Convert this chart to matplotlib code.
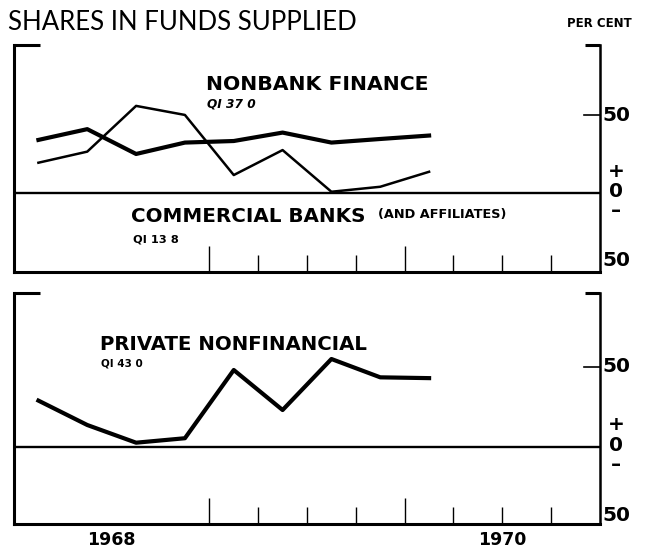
import matplotlib.pyplot as plt
import numpy as np

plt.rcParams['font.family'] = ['DejaVu Sans']

# quarters 1968 QI .. 1970 QI
years = [1968, 1968, 1968, 1968, 1969, 1969, 1969, 1969, 1970]
quarters = [1, 2, 3, 4, 1, 2, 3, 4, 1]

nonbank = [34.2, 41.1, 25.2, 32.5, 33.5, 38.9, 32.5, 34.8, 37.0]
banks = [19.6, 26.7, 56.0, 50.2, 11.7, 27.7, 1.0, 4.2, 13.8]
private_nonfin = [28.9, 13.6, 2.5, 5.3, 48.1, 23.0, 55.0, 43.5, 43.0]

x = np.array(years) + (np.array(quarters) - 0.5) / 4

fig = plt.figure(figsize=(6.45, 5.5), dpi=100)
ax1 = fig.add_axes([14/645, 1 - 272/550, 586/645, 227/550])
ax2 = fig.add_axes([14/645, 1 - 524/550, 586/645, 231/550])


def frame(ax, ylo, yhi):
    ax.set_xlim(1968, 1971)
    ax.set_ylim(ylo, yhi)
    ax.spines['top'].set_visible(False)
    for s in ['left', 'bottom']:
        ax.spines[s].set_linewidth(2.2)
    ax.spines['right'].set_linewidth(1.8)
    # little corner pieces of the top bracket
    ax.plot([0, 0.045], [1, 1], transform=ax.transAxes, color='black', lw=2.2,
            clip_on=False, solid_capstyle='butt')
    ax.plot([0.975, 1], [1, 1], transform=ax.transAxes, color='black', lw=2.2,
            clip_on=False, solid_capstyle='butt')
    ax.axhline(0, color='black', lw=1.7)
    ax.set_yticks([])
    ax.set_xticks([1969, 1970])
    ax.set_xticks([1969.25, 1969.5, 1969.75, 1970.25, 1970.5, 1970.75], minor=True)
    ax.tick_params(axis='x', which='major', direction='in', length=19, width=1,
                   labelbottom=False)
    ax.tick_params(axis='x', which='minor', direction='in', length=12, width=1)
    # right scale
    ax.plot([0.973, 1], [50, 50], transform=ax.get_yaxis_transform(), color='black',
            lw=1.2, clip_on=False)
    tr = ax.get_yaxis_transform()
    ax.text(1.005, 50, '50', transform=tr, ha='left', va='center', fontsize=14.5,
            fontweight='bold')
    ax.text(1.027, 14, '+', transform=tr, ha='center', va='center', fontsize=14.5,
            fontweight='bold')
    ax.text(1.027, 1, '0', transform=tr, ha='center', va='center', fontsize=14.5,
            fontweight='bold')
    ax.text(1.027, -11, '\u2013', transform=tr, ha='center', va='center',
            fontsize=14.5, fontweight='bold')
    ax.text(1.005, -43, '50', transform=tr, ha='left', va='center', fontsize=14.5,
            fontweight='bold')


frame(ax1, -50.4, 95)
frame(ax2, -48.5, 96.4)

ax1.plot(x, nonbank, color='black', lw=3.0, solid_joinstyle='round')
ax1.plot(x, banks, color='black', lw=1.8)
ax2.plot(x, private_nonfin, color='black', lw=3.0, solid_joinstyle='round')

ax1.text(1968.985, 66, 'NONBANK FINANCE', fontsize=14.7, fontweight='bold',
         va='baseline', ha='left')
ax1.text(1968.99, 54.7, 'QI 37 0', fontsize=8.7, style='italic', fontweight='bold',
         va='baseline', ha='left')
ax1.text(1968.60, -18.4, 'COMMERCIAL BANKS', fontsize=14.3, fontweight='bold',
         va='baseline', ha='left')
ax1.text(1969.862, -15.8, '(AND AFFILIATES)', fontsize=9.3, fontweight='bold',
         va='baseline', ha='left')
ax1.text(1968.607, -31.2, 'QI 13 8', fontsize=8.2, fontweight='bold', va='baseline',
         ha='left')

ax2.text(1968.44, 60.7, 'PRIVATE NONFINANCIAL', fontsize=14.2, fontweight='bold',
         va='baseline', ha='left')
ax2.text(1968.445, 50.6, 'QI 43 0', fontsize=7.5, fontweight='bold', va='baseline',
         ha='left')

ax2.text(1968.5, -53, '1968', transform=ax2.transData, ha='center', va='top',
         fontsize=12.5, fontweight='bold')
ax2.text(1970.5, -53, '1970', transform=ax2.transData, ha='center', va='top',
         fontsize=12.5, fontweight='bold')

fig.text(8/645, 1 - 30/550, 'SHARES IN FUNDS SUPPLIED', fontsize=18.5,
         family=['Lato', 'DejaVu Sans'], va='baseline', ha='left')
fig.text(632/645, 1 - 27/550, 'PER CENT', fontsize=8.5, fontweight='bold',
         va='baseline', ha='right')

fig.savefig('out.png', dpi=100)
